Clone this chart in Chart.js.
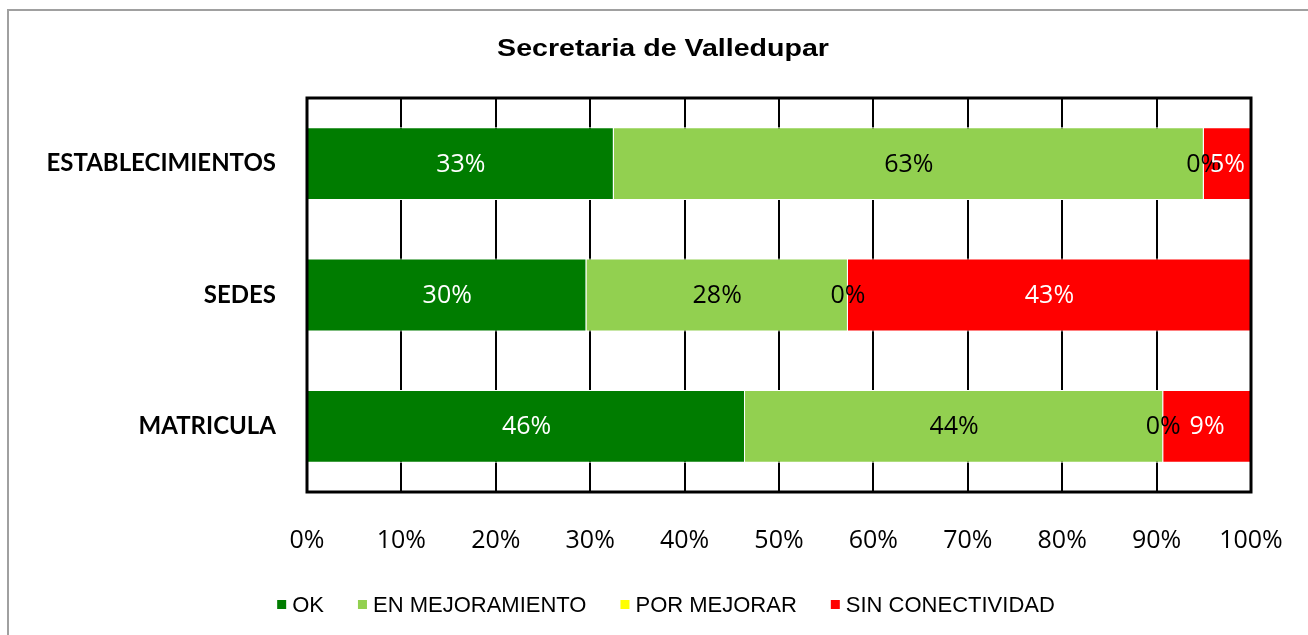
<!DOCTYPE html>
<html>
<head>
<meta charset="utf-8">
<script src="https://cdn.jsdelivr.net/npm/chart.js@4/dist/chart.umd.min.js"></script>
<style>
  html, body { margin: 0; padding: 0; background: #fff; overflow: hidden; }
  #frame { position: absolute; left: 7px; top: 9px; width: 1320px; height: 660px; border: 2px solid #a0a0a0; }
  #wrap { position: absolute; left: 0; top: 0; width: 1308px; height: 635px; }
</style>
</head>
<body>
<div id="frame"></div>
<div id="wrap"><canvas id="chart" width="1308" height="635"></canvas></div>
<script>
// categorias (de arriba hacia abajo)
const categorias = ['ESTABLECIMIENTOS', 'SEDES', 'MATRICULA'];
const series = ['OK', 'EN MEJORAMIENTO', 'POR MEJORAR', 'SIN CONECTIVIDAD'];
const colores = ['#007c00', '#92d050', '#ffff00', '#ff0000'];
const coloresTexto = ['#ffffff', '#000000', '#000000', '#ffffff'];

// porcentajes
const ok = [32.5, 29.6, 46.4];
const enMejoramiento = [62.5, 27.7, 44.3];
const porMejorar = [0, 0, 0];
const sinConectividad = [5.0, 42.7, 9.3];

const titulo = 'Secretaria de Valledupar';
const valores = [ok, enMejoramiento, porMejorar, sinConectividad];

// etiquetas de datos sobre cada segmento
const etiquetas = {
  id: 'etiquetas',
  afterDatasetsDraw(chart) {
    const ctx = chart.ctx;
    ctx.save();
    ctx.font = '25px "Open Sans"';
    ctx.textAlign = 'center';
    ctx.textBaseline = 'middle';
    chart.data.datasets.forEach((ds, i) => {
      const meta = chart.getDatasetMeta(i);
      meta.data.forEach((el, j) => {
        const v = ds.data[j];
        ctx.fillStyle = coloresTexto[i];
        ctx.fillText(Math.round(v) + '%', (el.x + el.base) / 2, el.y + 1);
      });
    });
    ctx.restore();
  },
  afterDraw(chart) {
    const ctx = chart.ctx;
    const a = chart.chartArea;
    ctx.save();
    // marco del area de trazado
    ctx.strokeStyle = '#000';
    ctx.lineWidth = 3;
    ctx.strokeRect(a.left, a.top, a.right - a.left, a.bottom - a.top);

    // titulo (algo estirado a lo ancho como en el original)
    ctx.fillStyle = '#000';
    ctx.font = 'bold 24px "Liberation Sans"';
    ctx.textAlign = 'center';
    ctx.textBaseline = 'middle';
    ctx.save();
    ctx.translate(663, 49);
    ctx.scale(1.19, 1);
    ctx.fillText(titulo, 0, 0);
    ctx.restore();

    // leyenda
    ctx.font = '22px "Liberation Sans"';
    ctx.textAlign = 'left';
    const caja = 9, sep = 6, hueco = 34;
    const anchos = series.map(s => ctx.measureText(s).width);
    let total = anchos.reduce((s, w) => s + caja + sep + w, 0) + hueco * (series.length - 1);
    let x = 666 - total / 2;
    const y = 605;
    series.forEach((s, i) => {
      ctx.fillStyle = colores[i];
      ctx.fillRect(x, y - 5, caja, caja);
      ctx.fillStyle = '#000';
      ctx.fillText(s, x + caja + sep, y + 1);
      x += caja + sep + anchos[i] + hueco;
    });
    ctx.restore();
  }
};

new Chart(document.getElementById('chart'), {
  type: 'bar',
  data: {
    labels: categorias,
    datasets: series.map((s, i) => ({
      label: s,
      data: valores[i],
      backgroundColor: colores[i],
      borderColor: '#ffffff',
      borderWidth: 1,
      barPercentage: 0.555,
      categoryPercentage: 1
    }))
  },
  options: {
    indexAxis: 'y',
    responsive: false,
    animation: false,
    layout: { padding: { top: 98, right: 57, bottom: 63, left: 0 } },
    plugins: {
      legend: { display: false },
      title: { display: false },
      tooltip: { enabled: false }
    },
    scales: {
      x: {
        stacked: true,
        min: 0,
        max: 100,
        border: { display: false },
        grid: { color: '#000', lineWidth: 2, drawTicks: false },
        ticks: {
          stepSize: 10,
          padding: 34,
          color: '#000',
          font: { family: 'Open Sans', size: 25 },
          callback: v => v + '%'
        },
        afterFit(scale) {
          scale.height = 80;
          scale.paddingLeft = 0;
          scale.paddingRight = 0;
        }
      },
      y: {
        stacked: true,
        border: { display: false },
        grid: { display: false, drawTicks: false },
        ticks: {
          padding: 31,
          color: '#000',
          font: { family: 'Lato', size: 24, weight: 'bold' }
        },
        afterFit(scale) { scale.width = 307; }
      }
    }
  },
  plugins: [etiquetas]
});
</script>
</body>
</html>
